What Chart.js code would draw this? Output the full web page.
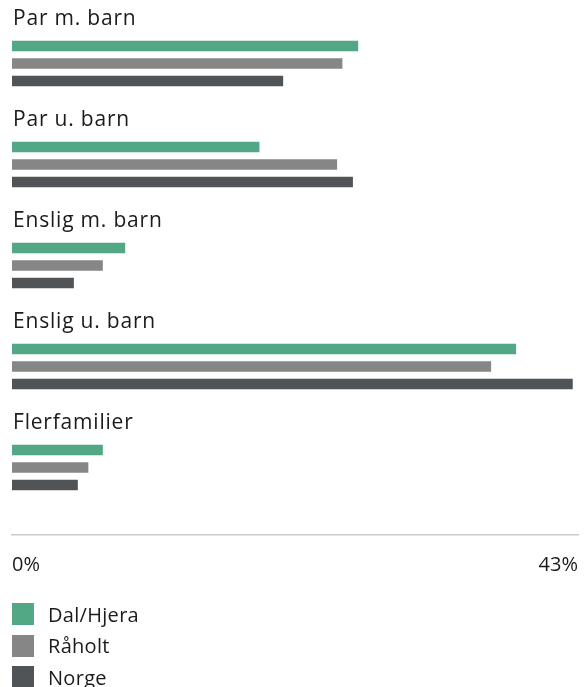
<!DOCTYPE html>
<html>
<head>
<meta charset="utf-8">
<script src="https://cdn.jsdelivr.net/npm/chart.js@4/dist/chart.umd.min.js"></script>
<style>
  html, body { margin: 0; padding: 0; background: #ffffff; }
  #wrap { position: relative; width: 588px; height: 687px; overflow: hidden; }
  #legend { position: absolute; left: 12px; top: 603px; font-family: "Open Sans", sans-serif; font-size: 20px; letter-spacing: 0.3px; color: #1b1b1b; }
  .item { display: flex; align-items: center; height: 22px; margin-bottom: 9.5px; }
  .box { width: 22px; height: 22px; margin-right: 14px; }
</style>
</head>
<body>
<div id="wrap">
  <canvas id="c"></canvas>
  <div id="legend"></div>
</div>
<script>
const categories = ["Par m. barn", "Par u. barn", "Enslig m. barn", "Enslig u. barn", "Flerfamilier"];
const seriesNames = ["Dal/Hjera", "Råholt", "Norge"];
const dalHjera = [26.3, 18.8, 8.6, 38.3, 6.9];
const raaholt  = [25.1, 24.7, 6.9, 36.4, 5.8];
const norge    = [20.6, 25.9, 4.7, 42.6, 5.0];
const xTickValues = [0, 43];
const colors = ["#52a785", "#858685", "#505456"];

const seriesValues = [dalHjera, raaholt, norge];
const FONT = '"Open Sans", sans-serif';
const TEXT = '#1b1b1b';

const categoryLabels = {
  id: 'categoryLabels',
  afterDatasetsDraw(chart) {
    const ctx = chart.ctx;
    const y = chart.scales.y;
    const x = chart.scales.x;
    ctx.save();
    ctx.font = '21px ' + FONT;
    try { ctx.letterSpacing = '0.8px'; } catch (e) {}
    ctx.fillStyle = TEXT;
    ctx.textAlign = 'left';
    ctx.textBaseline = 'alphabetic';
    categories.forEach((c, i) => {
      ctx.fillText(c, x.left + 1, y.getPixelForValue(i) - 38.5);
    });
    ctx.restore();
  }
};

new Chart(document.getElementById('c'), {
  type: 'bar',
  data: {
    datasets: seriesNames.map((n, k) => ({
      label: n,
      data: seriesValues[k].map((v, i) => ({ x: v, y: i })),
      backgroundColor: colors[k],
      borderWidth: 0,
      categoryPercentage: 0.52,
      barPercentage: 0.6
    }))
  },
  options: {
    indexAxis: 'y',
    responsive: true,
    maintainAspectRatio: false,
    animation: false,
    layout: { padding: { top: 13, left: 12, right: 10, bottom: 100 } },
    plugins: { legend: { display: false }, tooltip: { enabled: false } },
    scales: {
      y: {
        type: 'linear',
        reverse: true,
        offset: false,
        min: -0.5,
        max: 4.668,
        display: false,
        afterBuildTicks: (s) => { s.ticks = categories.map((c, i) => ({ value: i })); }
      },
      x: {
        type: 'linear',
        min: 0,
        max: 43,
        position: 'bottom',
        grid: { display: false, drawTicks: false },
        border: { display: true, color: '#cccccc', width: 1.5 },
        afterBuildTicks: (s) => { s.ticks = xTickValues.map(v => ({ value: v })); },
        afterFit: (s) => { s.height = 52; },
        ticks: {
          align: 'inner',
          maxRotation: 0,
          padding: 10,
          color: TEXT,
          font: { family: FONT, size: 20, lineHeight: 2 },
          callback: (v) => v + '%'
        }
      }
    }
  },
  plugins: [categoryLabels]
});

const lg = document.getElementById('legend');
seriesNames.forEach((n, k) => {
  const it = document.createElement('div');
  it.className = 'item';
  const b = document.createElement('div');
  b.className = 'box';
  b.style.background = colors[k];
  const t = document.createElement('span');
  t.textContent = n;
  it.appendChild(b); it.appendChild(t);
  lg.appendChild(it);
});
</script>
</body>
</html>
